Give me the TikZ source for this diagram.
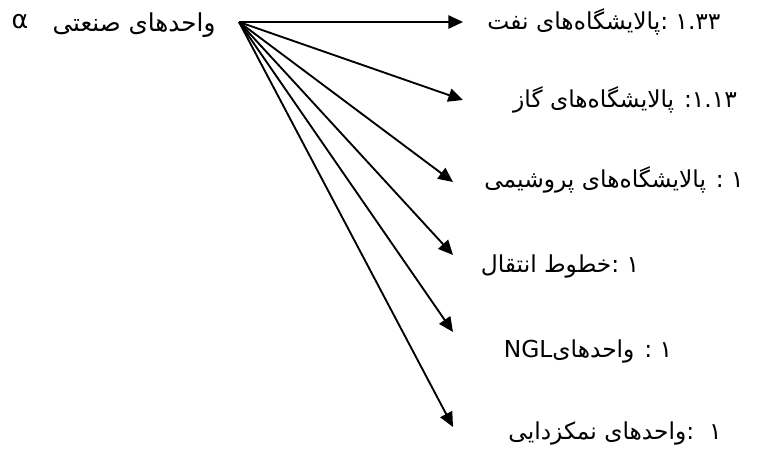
\documentclass[tikz,border=0pt]{standalone}
\usepackage{fontspec}
\setmainfont{DejaVu Sans}
\newfontfamily\fa[Script=Arabic]{DejaVu Sans}
\TeXXeTstate=1
\usetikzlibrary{arrows.meta}
\begin{document}
\begin{tikzpicture}[x=0.75pt,y=-0.75pt,
  lbl/.style={font=\fa\fontsize{17.5}{20}\selectfont, inner sep=0pt},
  arr/.style={line width=1.4pt, -{Triangle[length=11pt,width=10pt]}}]
\useasboundingbox (0,0) rectangle (762,454);
\coordinate (o) at (239,22);
\coordinate (t1) at (463,22);
\coordinate (t2) at (463,100);
\coordinate (t3) at (453,182);
\coordinate (t4) at (453,255);
\coordinate (t5) at (453,332);
\coordinate (t6) at (453,427);
\node[lbl, font=\fa\fontsize{19}{22}\selectfont] (alpha) at (20,22) {α};
\node[lbl, font=\fa\fontsize{18.5}{22}\selectfont] (src) at (134,25) {\beginR واحدهای صنعتی\endR};
\node[lbl] (n1) at (604,22) {\beginR\beginL ۱.۳۳\endL{} :پالایشگاه^^^^200cهای نفت\endR};
\node[lbl] (n2) at (625,100) {\beginR\beginL ۱.۱۳\endL: پالایشگاه^^^^200cهای گاز\endR};
\node[lbl] (n3) at (614,180) {\beginR\beginL ۱\endL{} : پالایشگاه^^^^200cهای پروشیمی\endR};
\node[lbl] (n4) at (560,266) {\beginR\beginL ۱\endL{} :خطوط انتقال\endR};
\node[lbl] (n5) at (588,351) {\beginR\beginL ۱\endL{} : واحدهای\beginL NGL\endL\endR};
\node[lbl] (n6) at (615,433) {\beginR\beginL ۱\endL\ \ :واحدهای نمکزدایی\endR};
\draw[arr] (o) -- (t1);
\draw[arr] (o) -- (t2);
\draw[arr] (o) -- (t3);
\draw[arr] (o) -- (t4);
\draw[arr] (o) -- (t5);
\draw[arr] (o) -- (t6);
\end{tikzpicture}
\end{document}
